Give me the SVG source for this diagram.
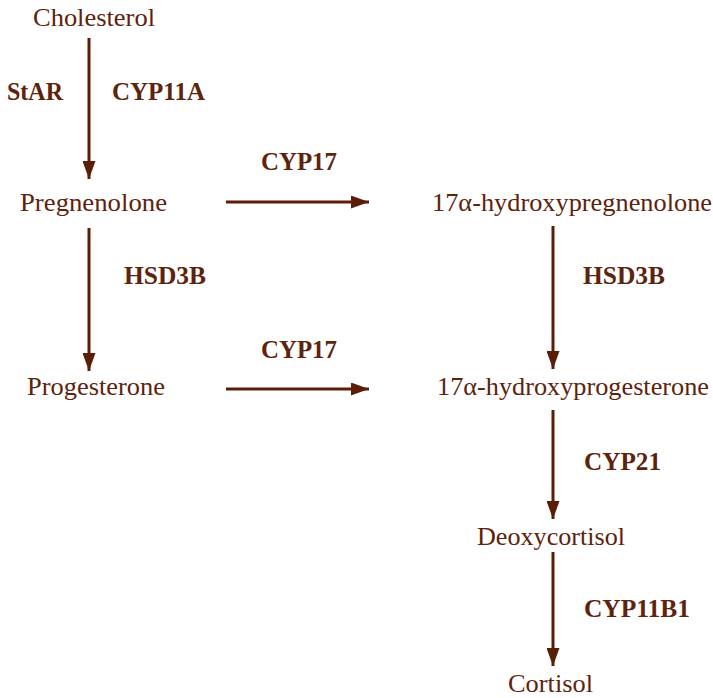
<svg xmlns="http://www.w3.org/2000/svg" width="713" height="698" viewBox="0 0 713 698">
<style>
.n{font-family:"Liberation Serif","DejaVu Serif",serif;font-size:25px;fill:#5e230d;text-anchor:middle}
.e{font-family:"Liberation Serif","DejaVu Serif",serif;font-size:25px;font-weight:bold;fill:#5e230d}
.c line{stroke:#5a1e06;stroke-width:3}
</style>
<defs>
<marker id="av" viewBox="0 0 18 13" markerWidth="18" markerHeight="13" refX="18" refY="6.5" orient="auto" markerUnits="userSpaceOnUse">
<path d="M0,0 L18,6.5 L0,13 Z" fill="#5a1e06"/>
</marker>
</defs>
<g class="c" id="connectors">
<line x1="89" y1="38" x2="89" y2="179" marker-end="url(#av)"/>
<line x1="89" y1="228" x2="89" y2="371" marker-end="url(#av)"/>
<line x1="226" y1="202" x2="369" y2="202" marker-end="url(#av)"/>
<line x1="226" y1="389" x2="369" y2="389" marker-end="url(#av)"/>
<line x1="553" y1="226" x2="553" y2="369" marker-end="url(#av)"/>
<line x1="553" y1="410" x2="553" y2="519" marker-end="url(#av)"/>
<line x1="553" y1="552" x2="553" y2="666" marker-end="url(#av)"/>
<text class="e" x="7" y="100" textLength="56" lengthAdjust="spacingAndGlyphs">StAR</text>
<text class="e" x="112" y="100" textLength="93" lengthAdjust="spacingAndGlyphs">CYP11A</text>
<text class="e" x="124" y="284" textLength="82" lengthAdjust="spacingAndGlyphs">HSD3B</text>
<text class="e" x="261" y="170" textLength="76" lengthAdjust="spacingAndGlyphs">CYP17</text>
<text class="e" x="261" y="358" textLength="76" lengthAdjust="spacingAndGlyphs">CYP17</text>
<text class="e" x="583" y="284" textLength="82" lengthAdjust="spacingAndGlyphs">HSD3B</text>
<text class="e" x="584" y="470" textLength="77" lengthAdjust="spacingAndGlyphs">CYP21</text>
<text class="e" x="584" y="617" textLength="106" lengthAdjust="spacingAndGlyphs">CYP11B1</text>
</g>
<g id="cholesterol"><text class="n" x="94" y="26" textLength="122" lengthAdjust="spacingAndGlyphs">Cholesterol</text></g>
<g id="pregnenolone"><text class="n" x="93.5" y="211" textLength="147" lengthAdjust="spacingAndGlyphs">Pregnenolone</text></g>
<g id="progesterone"><text class="n" x="96" y="395" textLength="138" lengthAdjust="spacingAndGlyphs">Progesterone</text></g>
<g id="hydroxypregnenolone"><text class="n" x="572" y="211" textLength="280" lengthAdjust="spacingAndGlyphs">17α-hydroxypregnenolone</text></g>
<g id="hydroxyprogesterone"><text class="n" x="573" y="395" textLength="272" lengthAdjust="spacingAndGlyphs">17α-hydroxyprogesterone</text></g>
<g id="deoxycortisol"><text class="n" x="551" y="545" textLength="148" lengthAdjust="spacingAndGlyphs">Deoxycortisol</text></g>
<g id="cortisol"><text class="n" x="550.5" y="692" textLength="85" lengthAdjust="spacingAndGlyphs">Cortisol</text></g>
</svg>
